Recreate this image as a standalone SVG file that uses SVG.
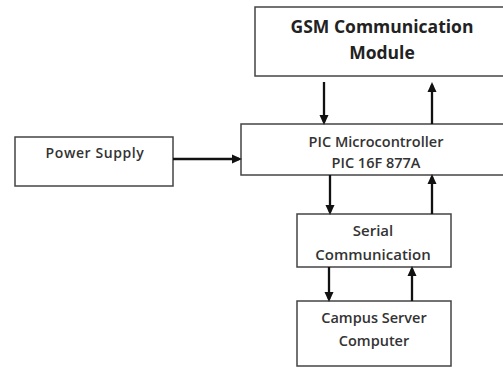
<svg xmlns="http://www.w3.org/2000/svg" width="503" height="368" viewBox="0 0 503 368">
<defs>
<marker id="ah" markerWidth="10" markerHeight="10" refX="7" refY="5" orient="auto" markerUnits="userSpaceOnUse">
<path d="M0,0.5 L10,5 L0,9.5 Z" fill="#111"/>
</marker>
<style>
.box{fill:#fff;stroke:#444;stroke-width:1.5}
.t{font-family:"Open Sans","Liberation Sans",sans-serif;font-weight:600;font-size:14.5px;fill:#333;text-anchor:middle}
.tb{font-family:"Open Sans","Liberation Sans",sans-serif;font-weight:700;font-size:17.5px;fill:#222;text-anchor:middle}
.c{stroke:#111;stroke-width:2.3;fill:none;marker-end:url(#ah)}
</style>
</defs>
<rect width="503" height="368" fill="#fff"/>
<g id="gsm">
<rect class="box" x="255" y="7" width="260" height="69"/>
<text class="tb" x="382" y="33">GSM Communication</text>
<text class="tb" x="382" y="59">Module</text>
</g>
<g id="pic">
<rect class="box" x="241" y="124" width="275" height="51"/>
<text class="t" x="376" y="147">PIC Microcontroller</text>
<text class="t" x="376" y="168">PIC 16F 877A</text>
</g>
<g id="power">
<rect class="box" x="15" y="137" width="158" height="49"/>
<text class="t" x="95" y="158" style="font-size:14px;letter-spacing:0.6px">Power Supply</text>
</g>
<g id="serial">
<rect class="box" x="297" y="214" width="154" height="53"/>
<text class="t" x="373" y="236" style="font-size:15px">Serial</text>
<text class="t" x="373" y="260" style="font-size:15px">Communication</text>
</g>
<g id="campus">
<rect class="box" x="297" y="301" width="154" height="65"/>
<text class="t" x="374" y="323">Campus Server</text>
<text class="t" x="374" y="346">Computer</text>
</g>
<g id="connectors">
<line class="c" x1="173" y1="159" x2="239" y2="159"/>
<line class="c" x1="324" y1="82" x2="324" y2="122"/>
<line class="c" x1="432" y1="124" x2="432" y2="85"/>
<line class="c" x1="330" y1="175" x2="330" y2="212"/>
<line class="c" x1="432" y1="214" x2="432" y2="177"/>
<line class="c" x1="329" y1="267" x2="329" y2="299"/>
<line class="c" x1="412" y1="301" x2="412" y2="269"/>
</g>
</svg>
